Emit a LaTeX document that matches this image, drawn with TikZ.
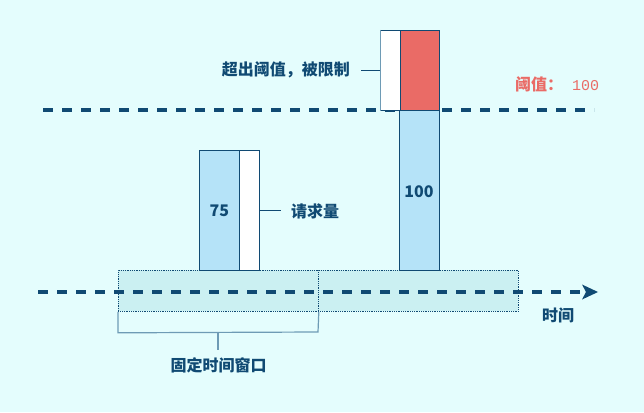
\documentclass[tikz,border=0pt]{standalone}
\usepackage{fontspec}
\setmainfont{Noto Sans CJK SC}
\newfontfamily\monofont{Liberation Mono}
\usetikzlibrary{arrows.meta}
\definecolor{bg}{RGB}{228,253,253}
\definecolor{dk}{RGB}{16,74,115}
\definecolor{lb}{RGB}{181,227,248}
\definecolor{rd}{RGB}{234,107,102}
\definecolor{win}{RGB}{203,240,242}
\definecolor{brk}{RGB}{110,155,181}
\begin{document}
\begin{tikzpicture}[x=1pt,y=-1pt,
  bar/.style={draw=dk,line width=0.9pt,minimum width=40pt,inner sep=0pt,anchor=north west,font=\fontsize{16}{19}\selectfont\bfseries,text=dk},
  ghost/.style={draw=dk,line width=0.9pt,fill=white,minimum width=20pt,inner sep=0pt,anchor=north west},
  winbox/.style={draw=dk,densely dotted,line width=0.8pt,fill=win,minimum width=200pt,minimum height=41pt,inner sep=0pt,anchor=north west},
  lbl/.style={text=dk,font=\fontsize{16}{19}\selectfont\bfseries,inner sep=0pt},
  dashline/.style={draw=dk,line width=3.2pt,dash pattern=on 10pt off 9pt}]
\fill[bg] (0,0) rectangle (644,412);
\useasboundingbox (0,0) rectangle (644,412);
% windows
\node[winbox] (w1) at (118,270) {};
\node[winbox] (w2) at (318,270) {};
% threshold line
\coordinate (t1) at (43,110);
\coordinate (t2) at (594,110);
\draw[dashline] (t1) -- (t2);
% time axis
\coordinate (a1) at (38,292);
\coordinate (a2) at (598,292);
\draw[dashline] (a1) -- (586,292);
\draw[draw=none,fill=dk] (a2) -- (582,284.5) -- (586,292) -- (582,299.5) -- cycle;
% bars
\node[bar,fill=lb,minimum height=120pt] (b75) at (199,150) {75};
\node[ghost,minimum height=120pt] (g75) at (239,150) {};
\node[bar,fill=lb,minimum height=160pt] (b100) at (399,110) {};
\node[lbl] at (419,192) {100};
\node[bar,fill=rd,minimum height=80pt] (red) at (399,30) {};
\node[ghost,minimum height=80pt] (g100) at (380,30) {};
\draw[brk,line width=1pt] (g100.north west) -- (g100.south west);
% labels
\node[lbl,anchor=west] (req) at (291,211) {请求量};
\draw[dk,line width=0.8pt] (g75.east) -- ++(21,0);
\node[lbl,anchor=east] (over) at (350,70) {超出阈值，被限制};
\draw[dk,line width=0.8pt] (g100.west) -- ++(-19,0);
\node[anchor=west,inner sep=0pt,text=rd] (thr) at (515,84) {\fontsize{16}{19}\selectfont\bfseries 阈值：\hspace{9pt}{\monofont\fontsize{15}{17}\selectfont\mdseries 100}};
\node[lbl] (time) at (558,315) {时间};
% bracket
\draw[brk,line width=1.2pt] (w1.south west) -- ++(0,21) -- (318,332) -- (w1.south east);
\coordinate (bm) at (218,332);
\draw[brk,line width=1.2pt] (bm) -- ++(0,18);
\node[lbl] (fix) at (218.5,365) {固定时间窗口};
\end{tikzpicture}
\end{document}
